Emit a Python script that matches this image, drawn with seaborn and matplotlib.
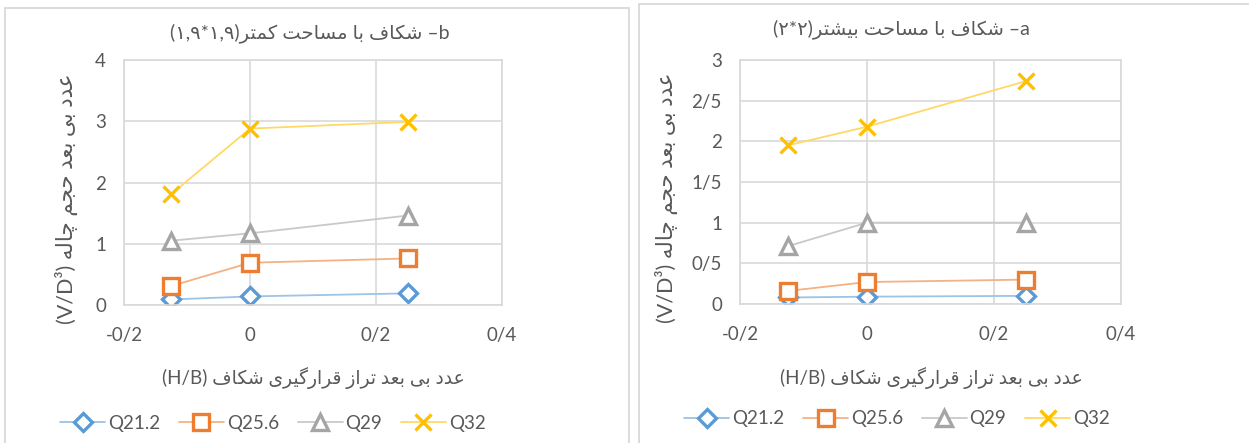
import numpy as np
import pandas as pd
import seaborn as sns
import matplotlib.pyplot as plt
from matplotlib.patches import Rectangle
from matplotlib.ticker import FuncFormatter, MultipleLocator

# data
hb = [-0.125, 0, 0.25]
series = ['Q21.2', 'Q25.6', 'Q29', 'Q32']

# panel b (smaller crack 1.9*1.9)
b_q212 = [0.09, 0.14, 0.19]
b_q256 = [0.31, 0.69, 0.76]
b_q29 = [1.05, 1.17, 1.46]
b_q32 = [1.81, 2.88, 2.99]

# panel a (bigger crack 2*2)
a_q212 = [0.08, 0.09, 0.10]
a_q256 = [0.16, 0.27, 0.30]
a_q29 = [0.71, 1.0, 1.0]
a_q32 = [1.95, 2.18, 2.74]

# minimal persian shaping (matplotlib has no complex text layout)
FORMS = {
    'ا': (0xFE8D, 0xFE8E, 0xFE8D, 0xFE8E),
    'ب': (0xFE8F, 0xFE90, 0xFE91, 0xFE92),
    'ت': (0xFE95, 0xFE96, 0xFE97, 0xFE98),
    'ج': (0xFE9D, 0xFE9E, 0xFE9F, 0xFEA0),
    'ح': (0xFEA1, 0xFEA2, 0xFEA3, 0xFEA4),
    'د': (0xFEA9, 0xFEAA, 0xFEA9, 0xFEAA),
    'ر': (0xFEAD, 0xFEAE, 0xFEAD, 0xFEAE),
    'ز': (0xFEAF, 0xFEB0, 0xFEAF, 0xFEB0),
    'س': (0xFEB1, 0xFEB2, 0xFEB3, 0xFEB4),
    'ش': (0xFEB5, 0xFEB6, 0xFEB7, 0xFEB8),
    'ع': (0xFEC9, 0xFECA, 0xFECB, 0xFECC),
    'ف': (0xFED1, 0xFED2, 0xFED3, 0xFED4),
    'ق': (0xFED5, 0xFED6, 0xFED7, 0xFED8),
    'ل': (0xFEDD, 0xFEDE, 0xFEDF, 0xFEE0),
    'م': (0xFEE1, 0xFEE2, 0xFEE3, 0xFEE4),
    'ه': (0xFEE9, 0xFEEA, 0xFEEB, 0xFEEC),
    'چ': (0xFB7A, 0xFB7B, 0xFB7C, 0xFB7D),
    'ک': (0xFB8E, 0xFB8F, 0xFB90, 0xFB91),
    'گ': (0xFB92, 0xFB93, 0xFB94, 0xFB95),
    'ی': (0xFBFC, 0xFBFD, 0xFBFE, 0xFBFF),
}
RIGHT_ONLY = set('ادرز')


def fa(s):
    out = []
    for i, c in enumerate(s):
        if c not in FORMS:
            out.append(c)
            continue
        prev = s[i - 1] if i > 0 else ''
        nxt = s[i + 1] if i < len(s) - 1 else ''
        jp = prev in FORMS and prev not in RIGHT_ONLY
        jn = nxt in FORMS and c not in RIGHT_ONLY
        iso, fin, ini, med = FORMS[c]
        if jp and jn:
            out.append(chr(med))
        elif jp:
            out.append(chr(fin))
        elif jn:
            out.append(chr(ini))
        else:
            out.append(chr(iso))
    return ''.join(out)[::-1]


title_b = '(۱,۹*۱,۹)' + fa('شکاف با مساحت کمتر') + ' –b'
title_a = '(۲*۲)' + fa('شکاف با مساحت بیشتر') + ' –a'
ylab = '(V/D³) ' + fa('عدد بی بعد حجم چاله')
xlab = '(H/B) ' + fa('عدد بی بعد تراز قرارگیری شکاف')

sns.set_style('white')
plt.rcParams['font.family'] = ['Lato', 'DejaVu Sans']

txt = '#595959'
grid = '#D9D9D9'
line_cols = ['#9DC3E6', '#F4B183', '#C9C9C9', '#FFD966']
mark_cols = ['#5B9BD5', '#ED7D31', '#A5A5A5', '#FFC000']
markers = ['D', 's', '^', 'x']
msizes = [9.5, 11, 11.5, 12]

fig = plt.figure(figsize=(12.49, 4.43), dpi=100)

# panel frames
fig.add_artist(Rectangle((5 / 1249, -0.05), 624 / 1249, 435 / 443 + 0.05,
                         transform=fig.transFigure, fill=False, ec=grid, lw=1.3))
fig.add_artist(Rectangle((639 / 1249, -0.05), 1, 439 / 443 + 0.05,
                         transform=fig.transFigure, fill=False, ec=grid, lw=1.3))

ax_b = fig.add_axes([124 / 1249, 138 / 443, 378 / 1249, 245 / 443])
ax_a = fig.add_axes([740 / 1249, 139 / 443, 381 / 1249, 244 / 443])

fmt = FuncFormatter(lambda v, p: ('%g' % round(v, 3)).replace('.', '/'))


def draw(ax, data, ymax, ystep, title, tpos, ylpos, xlpos, legx, legy):
    for vals, name, lc, mc, m, ms in zip(data, series, line_cols, mark_cols, markers, msizes):
        df = pd.DataFrame({'hb': hb, 'v': vals})
        sns.lineplot(data=df, x='hb', y='v', ax=ax, color=lc, lw=1.3,
                     marker=m, markersize=ms, markeredgecolor=mc,
                     markerfacecolor='white', markeredgewidth=2.4, label=name)
    ax.set_xlim(-0.2, 0.4)
    ax.set_ylim(0, ymax)
    ax.xaxis.set_major_locator(MultipleLocator(0.2))
    ax.yaxis.set_major_locator(MultipleLocator(ystep))
    ax.xaxis.set_major_formatter(fmt)
    ax.yaxis.set_major_formatter(fmt)
    ax.grid(True, color=grid, lw=1.2)
    ax.set_axisbelow(True)
    for s in ax.spines.values():
        s.set_color(grid)
        s.set_linewidth(1.2)
    ax.tick_params(length=0, labelsize=13.5, colors=txt)
    ax.tick_params(axis='x', pad=16)
    ax.tick_params(axis='y', pad=13)
    ax.set_xlabel(xlab, fontsize=13.5, color=txt)
    ax.set_ylabel(ylab, fontsize=15.5, color=txt)
    ax.xaxis.set_label_coords(*xlpos)
    ax.yaxis.set_label_coords(*ylpos)
    ax.text(tpos[0], tpos[1], title, transform=ax.transAxes, ha='center',
            va='center', fontsize=14, color=txt)
    leg = ax.legend(loc='center', bbox_to_anchor=(legx, legy), ncol=4,
                    frameon=False, fontsize=13.5, handlelength=2.4,
                    handletextpad=0.15, columnspacing=1.0)
    for t in leg.get_texts():
        t.set_color(txt)


draw(ax_b, [b_q212, b_q256, b_q29, b_q32], 4, 1, title_b,
     (0.492, 1.11), (-0.122, 0.433), (0.5, -0.255), 0.394, -0.482)
draw(ax_a, [a_q212, a_q256, a_q29, a_q32], 3, 0.5, title_a,
     (0.425, 1.127), (-0.163, 0.434), (0.501, -0.26), 0.412, -0.471)

plt.savefig('out.png', dpi=100)
